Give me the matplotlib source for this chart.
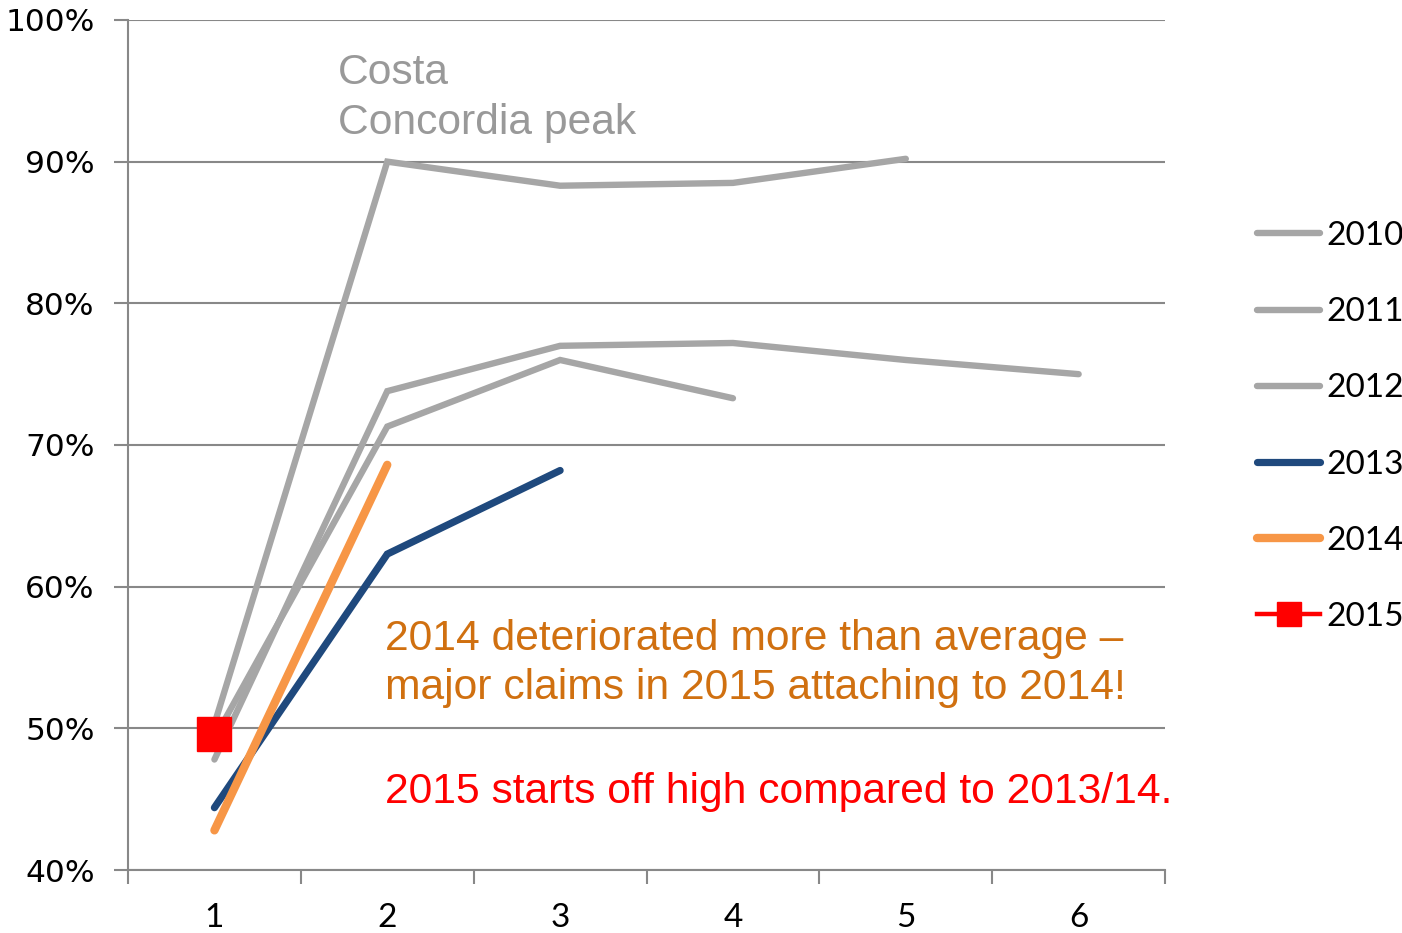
import matplotlib.pyplot as plt
from matplotlib.ticker import FuncFormatter

# development year (category axis)
periods = [1, 2, 3, 4, 5, 6]
years = ['2010', '2011', '2012', '2013', '2014', '2015']

# loss ratio in % per underwriting year
y2010 = [47.8, 73.8, 77.0, 77.2, 76.0, 75.0]
y2011 = [50.3, 90.0, 88.3, 88.5, 90.2]
y2012 = [49.3, 71.3, 76.0, 73.3]
y2013 = [44.4, 62.3, 68.2]
y2014 = [42.8, 68.6]
y2015 = [49.6]

gray = '#A6A6A6'
navy = '#1F497D'
orange = '#F79646'
grid_c = '#888888'

fig = plt.figure(figsize=(14.02, 9.33), dpi=100)
ax = fig.add_axes([0.0913, 0.0675, 0.7397, 0.9111])

series = [y2010, y2011, y2012, y2013, y2014]
cols = [gray, gray, gray, navy, orange]
lws = [4.6, 4.6, 4.6, 5.2, 6.0]
for lab, vals, c, lw in zip(years[:5], series, cols, lws):
    ax.plot(periods[:len(vals)], vals, color=c, lw=lw, solid_capstyle='round',
            solid_joinstyle='miter', label=lab, zorder=3)
ax.plot(periods[:len(y2015)], y2015, color='red', lw=3.2, marker='s',
        markersize=24, label=years[5], zorder=4)

ax.set_xlim(0.5, 6.5)
ax.set_ylim(40, 100)
ax.set_yticks(range(40, 101, 10))
ax.yaxis.set_major_formatter(FuncFormatter(lambda v, p: '%d%%' % v))
ax.set_xticks(periods)
ax.set_xticks([x + 0.5 for x in range(0, 7)], minor=True)
ax.tick_params(axis='x', which='major', length=0, pad=24, labelsize=24)
ax.tick_params(axis='x', which='minor', length=10, width=1.5, color=grid_c)
ax.tick_params(axis='y', length=10, width=1.5, color=grid_c, labelsize=22.5, pad=14)
for t in ax.get_xticklabels():
    t.set_family('Lato')
for t in ax.get_yticklabels():
    t.set_family('DejaVu Sans')

ax.grid(axis='y', color=grid_c, lw=1.5, zorder=0)
ax.set_axisbelow(True)
for s in ['top', 'right']:
    ax.spines[s].set_visible(False)
for s in ['left', 'bottom']:
    ax.spines[s].set_color(grid_c)
    ax.spines[s].set_linewidth(1.5)

ax.text(1.715, 94.5, 'Costa\nConcordia peak', color='#999999', fontsize=30.7,
        family='Liberation Sans', va='center', linespacing=1.31)
ax.text(1.985, 54.6, '2014 deteriorated more than average \u2013\nmajor claims in 2015 attaching to 2014!',
        color='#D07010', fontsize=30.7, family='Liberation Sans', va='center',
        linespacing=1.29)
ax.text(1.985, 45.5, '2015 starts off high compared to 2013/14.', color='red',
        fontsize=30.7, family='Liberation Sans', va='center')

leg = fig.legend(loc='upper left', bbox_to_anchor=(1257 / 1402, 1 - 221 / 933),
                 bbox_transform=fig.transFigure, frameon=False, borderpad=0,
                 borderaxespad=0, prop={'family': 'Lato', 'size': 24},
                 handlelength=1.9, handletextpad=0.18, labelspacing=1.385,
                 markerscale=0.7)

fig.savefig('out.png', dpi=100)
